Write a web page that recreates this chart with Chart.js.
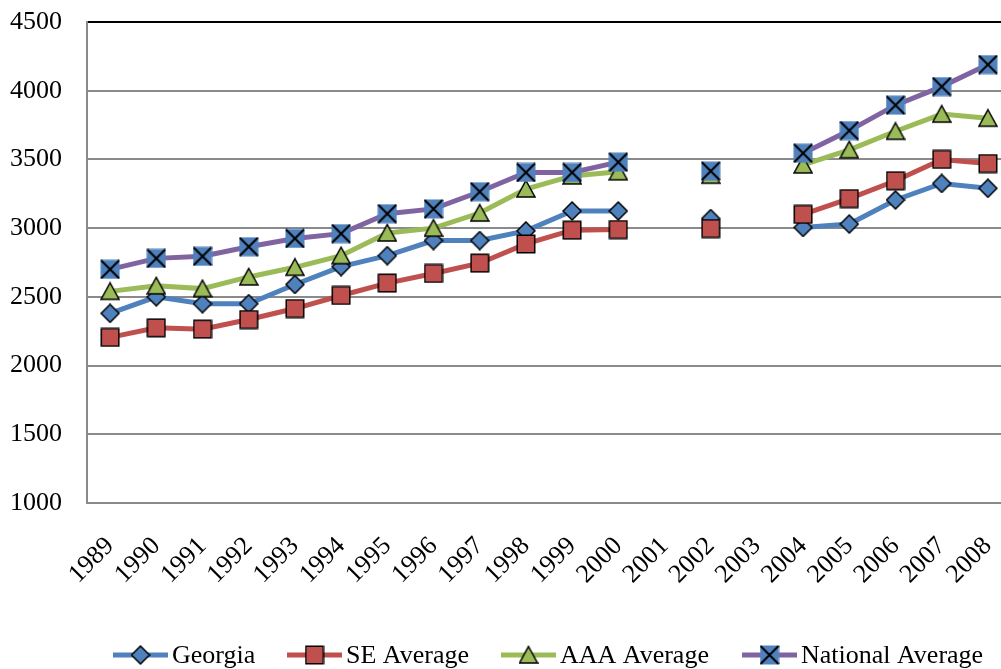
<!DOCTYPE html>
<html>
<head>
<meta charset="utf-8">
<script src="https://cdn.jsdelivr.net/npm/chart.js@4/dist/chart.umd.min.js"></script>
<style>
  html, body { margin: 0; padding: 0; overflow: hidden; background: #fff; }
  #c { display: block; }
</style>
</head>
<body>
<canvas id="c" width="1026" height="669"></canvas>
<script>
// Categories (2001 and 2003 have no data)
const years = ['1989','1990','1991','1992','1993','1994','1995','1996','1997','1998',
               '1999','2000','2001','2002','2003','2004','2005','2006','2007','2008'];

const georgia  = [2380, 2500, 2450, 2450, 2590, 2720, 2800, 2910, 2910, 2980,
                  3125, 3125, null, 3070, null, 3005, 3030, 3205, 3325, 3290];
const seAvg    = [2205, 2275, 2265, 2335, 2415, 2510, 2600, 2670, 2745, 2885,
                  2985, 2990, null, 2997, null, 3100, 3215, 3345, 3500, 3470];
const aaaAvg   = [2540, 2580, 2560, 2645, 2715, 2800, 2965, 3000, 3110, 3285,
                  3380, 3410, null, 3385, null, 3460, 3570, 3705, 3830, 3800];
const natAvg   = [2700, 2780, 2795, 2865, 2925, 2960, 3105, 3140, 3265, 3405,
                  3405, 3480, null, 3415, null, 3545, 3710, 3895, 4030, 4190];

const yTicks = [1000, 1500, 2000, 2500, 3000, 3500, 4000, 4500];

const FONT = 'Liberation Serif';
const BLUE = '#4F81BD', RED = '#C0504D', GREEN = '#9BBB59', PURPLE = '#8064A2';
const CLEAR = 'rgba(0,0,0,0)';

// Marker images
function makeMarker(size, draw) {
  const c = document.createElement('canvas');
  c.width = size; c.height = size;
  const g = c.getContext('2d');
  draw(g, size);
  return c;
}
const diamond = makeMarker(20, (g, s) => {
  g.beginPath();
  g.moveTo(s/2, 1); g.lineTo(s-1, s/2); g.lineTo(s/2, s-1); g.lineTo(1, s/2); g.closePath();
  g.fillStyle = BLUE; g.fill();
  g.lineWidth = 1.5; g.strokeStyle = '#000'; g.stroke();
});
const square = makeMarker(20, (g, s) => {
  g.fillStyle = RED; g.fillRect(1, 1, s-2, s-2);
  g.lineWidth = 1.5; g.strokeStyle = '#000'; g.strokeRect(1.25, 1.25, s-2.5, s-2.5);
});
const triangle = makeMarker(20, (g, s) => {
  g.beginPath();
  g.moveTo(s/2, 1.5); g.lineTo(s-1, s-2); g.lineTo(1, s-2); g.closePath();
  g.fillStyle = GREEN; g.fill();
  g.lineWidth = 1.5; g.strokeStyle = '#000'; g.stroke();
});
const xSquare = makeMarker(20, (g, s) => {
  g.fillStyle = BLUE; g.fillRect(0.5, 0.5, s-1, s-1);
  g.beginPath();
  g.moveTo(1, 1); g.lineTo(s-1, s-1);
  g.moveTo(s-1, 1); g.lineTo(1, s-1);
  g.lineWidth = 2; g.strokeStyle = '#000'; g.stroke();
});

function series(label, data, color, marker, order) {
  return {
    label, data,
    borderColor: color,
    backgroundColor: color,
    borderWidth: 5,
    pointStyle: marker,
    pointRadius: 10,
    pointHoverRadius: 10,
    tension: 0,
    spanGaps: false,
    order
  };
}

const datasets = [
  series('Georgia', georgia, BLUE, diamond, 4),
  series('SE Average', seAvg, RED, square, 3),
  series('AAA Average', aaaAvg, GREEN, triangle, 2),
  series('National Average', natAvg, PURPLE, xSquare, 1)
];

// Legend along the bottom: a short line with the marker over it, then the name
const bottomLegend = {
  id: 'bottomLegend',
  afterDraw(chart) {
    const ctx = chart.ctx;
    const y = 655;
    const items = [
      { ds: datasets[0], x: 113 },
      { ds: datasets[1], x: 287 },
      { ds: datasets[2], x: 501 },
      { ds: datasets[3], x: 742 }
    ];
    ctx.save();
    ctx.font = '26px "' + FONT + '"';
    ctx.textBaseline = 'middle';
    ctx.fillStyle = '#000';
    items.forEach(it => {
      ctx.beginPath();
      ctx.moveTo(it.x, y); ctx.lineTo(it.x + 55, y);
      ctx.lineWidth = 5; ctx.strokeStyle = it.ds.borderColor; ctx.stroke();
      const img = it.ds.pointStyle;
      ctx.drawImage(img, it.x + 27.5 - img.width/2, y - img.height/2);
      ctx.fillText(it.ds.label, it.x + 59, y + 1);
    });
    ctx.restore();
  }
};

new Chart(document.getElementById('c'), {
  type: 'line',
  data: { labels: years, datasets },
  options: {
    responsive: false,
    animation: false,
    devicePixelRatio: 1,
    layout: { padding: { top: 22, right: 1, left: 0, bottom: 0 } },
    plugins: { legend: { display: false }, tooltip: { enabled: false } },
    scales: {
      x: {
        type: 'category',
        offset: true,
        grid: { display: true, drawOnChartArea: false, drawTicks: true, tickLength: 26, tickColor: CLEAR, color: CLEAR },
        border: { display: false },
        ticks: {
          color: '#000',
          font: { family: FONT, size: 26 },
          autoSkip: false,
          maxRotation: 45,
          minRotation: 45,
          padding: 2
        },
        afterFit: s => { s.height = 166; }
      },
      y: {
        min: 1000,
        max: 4500,
        afterBuildTicks: s => { s.ticks = yTicks.map(v => ({ value: v })); },
        grid: {
          color: ctx => (ctx.tick && ctx.tick.value === 4500) ? '#000' : '#8a8a8a',
          lineWidth: 2,
          drawTicks: true,
          tickLength: 22,
          tickColor: CLEAR
        },
        border: { color: '#8a8a8a', width: 2 },
        ticks: {
          color: '#000',
          font: { family: FONT, size: 26 },
          padding: 3,
          callback: v => String(v)
        },
        afterFit: s => { s.width = 87; }
      }
    }
  },
  plugins: [bottomLegend]
});
</script>
</body>
</html>
